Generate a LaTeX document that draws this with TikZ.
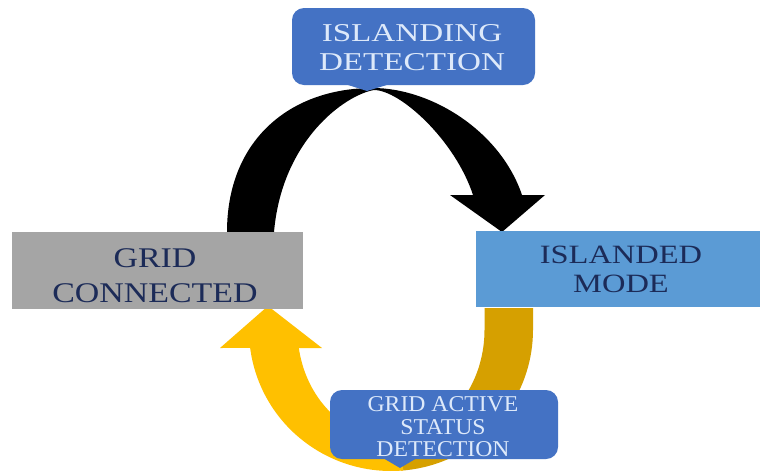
\documentclass[tikz,border=0pt]{standalone}
\usepackage{fontspec}
\setmainfont{Liberation Serif}
\newfontfamily\serifwideA[FakeStretch=1.29]{Liberation Serif}
\newfontfamily\serifwideB[FakeStretch=1.19]{Liberation Serif}
\newfontfamily\serifwideC[FakeStretch=1.23]{Liberation Serif}
\newfontfamily\serifwideD[FakeStretch=1.05]{Liberation Serif}
\definecolor{calloutblue}{HTML}{4472C4}
\definecolor{modeblue}{HTML}{5B9BD5}
\definecolor{gridgray}{HTML}{A5A5A5}
\definecolor{goldlight}{HTML}{FFC000}
\definecolor{golddark}{HTML}{D6A000}
\definecolor{navytext}{HTML}{1C2B58}
\definecolor{palefont}{HTML}{DDE9FA}
\tikzset{
  statebox/.style={rectangle, inner sep=0pt, draw=none},
  calloutbox/.style={statebox, fill=calloutblue, rounded corners=12pt},
  lbl/.style={align=center, inner sep=0pt},
}
\begin{document}
\begin{tikzpicture}[x=1pt,y=-1pt]
\useasboundingbox (0,0) rectangle (760,472);
\fill[white] (0,0) rectangle (760,472);

% return arrow, back face (darker gold)
\fill[golddark] (533,308)
  -- plot[domain=0:86,samples=40] ({391+142*cos(\x)},{330+141*sin(\x)})
  -- plot[domain=86:0,samples=40] ({391+93.5*cos(\x)},{330+108*sin(\x)})
  -- (484.5,308) -- cycle;
% return arrow, front face with head (bright gold)
\fill[goldlight]
  plot[domain=85:172.7,samples=50] ({391+142*cos(\x)},{330+141*sin(\x)})
  -- (220,348) -- (268,306) -- (322,348) -- (299,348)
  -- plot[domain=170.4:85,samples=50] ({391+93.5*cos(\x)},{330+108*sin(\x)})
  -- cycle;

% detection arrow (black), pinched at its crest
\fill[black] (227,232)
  .. controls (227,140) and (290,88) .. (373,88)
  .. controls (430,88) and (500,130) .. (522,195)
  -- (545,195) -- (502,232) -- (450,195) -- (473,195)
  .. controls (455,140) and (400,90) .. (374,90)
  .. controls (345,95) and (282,140) .. (274,232)
  -- cycle;

% state boxes
\node[statebox, fill=gridgray, minimum width=291pt, minimum height=77pt] (grid) at (157.5,270.5) {};
\node[lbl, text=navytext, font=\serifwideB\fontsize{28.5}{35}\selectfont] (gridlbl) at (155,276) {GRID\\CONNECTED};

\node[statebox, fill=modeblue, minimum width=284pt, minimum height=76pt] (island) at (618,269) {};
\node[lbl, text=navytext, font=\serifwideC\fontsize{26.4}{29}\selectfont] (islandlbl) at (621,269) {ISLANDED\\MODE};

% detection callouts
\node[calloutbox, minimum width=243pt, minimum height=77pt] (detect) at (413.5,46.5) {};
\fill[calloutblue] (345,84) -- (367,91) -- (390,84) -- cycle;
\node[lbl, text=palefont, font=\serifwideA\fontsize{25.7}{29}\selectfont] (detectlbl) at (412,48) {ISLANDING\\DETECTION};

\node[calloutbox, minimum width=228pt, minimum height=69pt] (status) at (444,424.5) {};
\fill[calloutblue] (383,458) -- (400,468) -- (417,458) -- cycle;
\node[lbl, text=palefont, font=\serifwideD\fontsize{22.6}{22.6}\selectfont] (statuslbl) at (443,427) {GRID ACTIVE\\STATUS\\DETECTION};
\end{tikzpicture}
\end{document}
